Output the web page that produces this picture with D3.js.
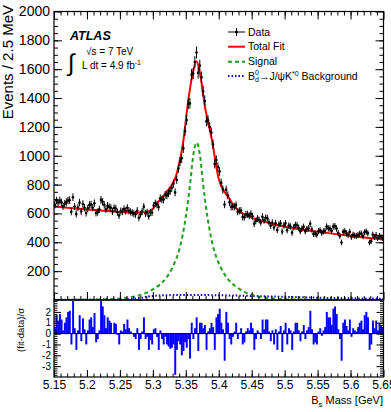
<!DOCTYPE html>
<html><head><meta charset="utf-8">
<script src="https://cdn.jsdelivr.net/npm/d3@7"></script>
<style>body{margin:0;background:#fff} svg{display:block} text{font-family:"Liberation Sans",Arial,Helvetica,sans-serif}</style>
</head><body><svg id="c" width="391" height="412"></svg>
<script>
// ---- data ----
const massMin = 5.15, massMax = 5.65, binWidth = 0.0025;
const dataCounts = [660,690,676,690,677,650,667,679,690,692,
612,712,648,597,641,675,614,666,640,603,
635,659,663,640,671,603,609,628,694,681,
660,629,653,645,639,614,638,634,609,586,
617,614,631,618,639,619,611,605,598,594,
619,570,595,613,647,600,608,581,606,606,
654,670,662,644,705,697,697,730,725,740,
755,778,807,746,834,911,959,982,1052,1170,
1248,1360,1363,1562,1570,1650,1716,1575,1625,1544,
1447,1380,1239,1245,1199,1161,1080,943,971,923,
891,813,766,662,765,726,677,646,647,647,
658,612,618,620,576,574,593,594,584,597,
580,528,548,564,555,538,577,552,570,567,
539,515,536,503,532,486,523,531,474,517,
531,484,516,510,467,504,520,518,501,477,
495,507,476,493,497,528,489,457,460,453,
477,483,466,475,480,509,496,495,478,509,
512,495,464,443,399,472,477,463,452,472,
437,452,447,444,451,458,461,443,469,474,
462,399,408,453,436,450,430,444,438,430];
const pulls = [0.5,1.7,1.2,1.8,1.3,0.3,1.0,1.5,2.0,2.1,
-1.0,3.0,0.5,-1.5,0.3,1.7,-0.7,1.4,0.4,-1.0,
0.3,1.3,1.5,0.6,1.9,-0.8,-0.5,0.3,3.0,2.5,
1.7,0.5,1.5,1.2,1.0,0.0,1.0,0.9,-0.1,-1.0,
0.3,0.2,0.9,0.4,1.3,0.5,0.2,0.0,-0.3,-0.5,
0.5,-1.5,-0.5,0.2,1.5,-0.5,-0.3,-1.5,-0.6,-1.0,
0.4,0.5,-0.3,-1.5,0.3,-0.5,-1.0,-0.3,-1.0,-1.2,
-1.4,-1.3,-1.0,-3.8,-1.5,-0.7,-1.0,-2.0,-1.6,-0.8,
-1.3,-0.5,-2.3,1.0,-0.5,0.5,1.5,-1.6,1.0,1.0,
0.5,0.8,-1.5,0.2,0.5,1.0,0.6,-1.5,1.5,1.8,
2.3,1.0,0.4,-2.5,2.0,1.0,-0.5,-1.0,-0.3,0.2,
1.0,-0.5,0.1,0.5,-1.0,-0.8,0.2,0.5,0.3,1.0,
0.5,-1.5,-0.5,0.3,0.1,-0.5,1.3,0.4,1.3,1.3,
0.2,-0.7,0.3,-1.0,0.4,-1.5,0.2,0.7,-1.7,0.3,
1.0,-1.0,0.5,0.3,-1.5,0.2,1.0,1.0,0.3,-0.7,
0.2,0.8,-0.5,0.3,0.6,2.1,0.4,-1.0,-0.8,-1.0,
0.2,0.5,-0.2,0.3,0.6,2.0,1.5,1.5,0.8,2.3,
2.5,1.8,0.4,-0.5,-2.5,1.0,1.3,0.7,0.3,1.3,
-0.3,0.5,0.3,0.2,0.6,1.0,1.2,0.4,1.7,2.0,
1.5,-1.5,-1.0,1.2,0.5,1.2,0.3,1.0,0.8,0.5];
const fitMass = [5.15,5.175,5.20,5.225,5.25,5.27,5.285,5.297,5.31,5.321,5.3365,5.3465,5.3526,5.36,5.3664,5.3714,5.379,5.3896,5.40,5.4175,5.4225,5.448,5.475,5.50,5.55,5.60,5.65];
const fitVals = [648,638,628,618,610,605,608,622,690,750,880,1111,1343,1560,1655,1574,1343,1111,840,694,655,575,535,508,474,444,420];
const sigMass = [5.15,5.2164,5.2564,5.2764,5.3024,5.3134,5.3214,5.3279,5.3344,5.3400,5.3451,5.3501,5.3567,5.3614,5.3664,5.3714,5.3761,5.3827,5.3877,5.3928,5.3984,5.4049,5.4114,5.4194,5.4304,5.4424,5.4564,5.4764,5.5164,5.65];
const sigVals = [0,3,13,28,80,118,160,208,273,347,448,579,810,1007,1090,1007,810,579,448,347,273,208,160,118,80,49,28,13,3,0];
const bkgMass = [5.15,5.20,5.25,5.27,5.28,5.29,5.30,5.32,5.35,5.40,5.45,5.50,5.55,5.60,5.65];
const bkgVals = [1,2,4,8,14,22,28,33,35,33,28,22,16,12,9];
const xTickValues = [5.15,5.2,5.25,5.3,5.35,5.4,5.45,5.5,5.55,5.6,5.65];
const xTickLabels = ["5.15","5.2","5.25","5.3","5.35","5.4","5.45","5.5","5.55","5.6","5.65"];
const yTickValues = [200,400,600,800,1000,1200,1400,1600,1800,2000];
const pullTickValues = [-3,-2,-1,0,1,2];

// ---- layout ----
const svg = d3.select("#c");
const L = 54, R = 383.5, mainTop = 11.5, mainBot = 300, pullTop = 300, pullBot = 377;
const x = d3.scaleLinear().domain([massMin, massMax]).range([L, R]);
const y = d3.scaleLinear().domain([0, 2000]).range([mainBot, mainTop]);
const yp = d3.scaleLinear().domain([-4, 3.1]).range([pullBot, pullTop]);
const bins = dataCounts.map((n, i) => ({lo: massMin + i*binWidth, hi: massMin + (i+1)*binWidth, c: massMin + (i+0.5)*binWidth, n, p: pulls[i]}));

function rng(a, b, s){ const out=[]; for(let v=a; v<=b+1e-9; v+=s) out.push(+v.toFixed(4)); return out; }
function clean(g){ g.select(".domain").remove(); g.selectAll(".tick line").attr("stroke","#000"); }

const defs = svg.append("defs");
defs.append("clipPath").attr("id","mainclip").append("rect").attr("x",L).attr("y",mainTop).attr("width",R-L).attr("height",mainBot-mainTop);
defs.append("clipPath").attr("id","pullclip").append("rect").attr("x",L).attr("y",pullTop).attr("width",R-L).attr("height",pullBot-pullTop);

// ---- pull bars ----
const pg = svg.append("g").attr("clip-path","url(#pullclip)");
pg.selectAll("rect").data(bins).join("rect")
  .attr("x", d => x(d.lo)).attr("width", d => x(d.hi)-x(d.lo)+0.3)
  .attr("y", d => Math.min(yp(0), yp(d.p))).attr("height", d => Math.abs(yp(d.p)-yp(0)))
  .attr("fill", "#0000ff");
pg.append("line").attr("x1",L).attr("x2",R).attr("y1",yp(0)).attr("y2",yp(0)).attr("stroke","#000").attr("stroke-width",1);

// ---- curves ----
const mg = svg.append("g").attr("clip-path","url(#mainclip)");
const line = d3.line().x(d => x(d[0])).y(d => y(d[1])).curve(d3.curveMonotoneX);
mg.append("path").datum(bkgMass.map((m,i)=>[m,bkgVals[i]])).attr("d",line)
  .attr("fill","none").attr("stroke","#0000cc").attr("stroke-width",2).attr("stroke-dasharray","1.5,2");
mg.append("path").datum(sigMass.map((m,i)=>[m,sigVals[i]])).attr("d",line)
  .attr("fill","none").attr("stroke","#1f9e1f").attr("stroke-width",2).attr("stroke-dasharray","4,3");
mg.append("path").datum(fitMass.map((m,i)=>[m,fitVals[i]])).attr("d",line)
  .attr("fill","none").attr("stroke","#ff0000").attr("stroke-width",2);

// ---- data points ----
const dg = mg.append("g");
const pts = dg.selectAll("g").data(bins).join("g");
pts.append("line").attr("x1", d=>x(d.c)).attr("x2", d=>x(d.c))
  .attr("y1", d=>y(d.n+Math.sqrt(d.n))).attr("y2", d=>y(d.n-Math.sqrt(d.n))).attr("stroke","#000").attr("stroke-width",1);
pts.append("line").attr("x1", d=>x(d.lo)).attr("x2", d=>x(d.hi))
  .attr("y1", d=>y(d.n)).attr("y2", d=>y(d.n)).attr("stroke","#000").attr("stroke-width",1);
pts.append("circle").attr("cx", d=>x(d.c)).attr("cy", d=>y(d.n)).attr("r",1.3).attr("fill","#000");

// ---- axes: main panel ----
const fMain = "14px", fPullX = "12px", fPullY = "10px";
let g;
g = svg.append("g").attr("transform",`translate(${L},0)`).call(d3.axisLeft(y).tickValues(yTickValues).tickSize(-8).tickPadding(4).tickFormat(d3.format("d")).tickSizeOuter(0));
clean(g); g.selectAll("text").attr("font-size",fMain).attr("font-family",null);
g = svg.append("g").attr("transform",`translate(${L},0)`).call(d3.axisLeft(y).tickValues(rng(50,1950,50)).tickSize(-4).tickFormat("").tickSizeOuter(0)); clean(g);
g = svg.append("g").attr("transform",`translate(${R},0)`).call(d3.axisRight(y).tickValues(yTickValues).tickSize(-8).tickFormat("").tickSizeOuter(0)); clean(g);
g = svg.append("g").attr("transform",`translate(${R},0)`).call(d3.axisRight(y).tickValues(rng(50,1950,50)).tickSize(-4).tickFormat("").tickSizeOuter(0)); clean(g);
g = svg.append("g").attr("transform",`translate(0,${mainTop})`).call(d3.axisTop(x).tickValues(xTickValues).tickSize(-8).tickFormat("").tickSizeOuter(0)); clean(g);
g = svg.append("g").attr("transform",`translate(0,${mainTop})`).call(d3.axisTop(x).tickValues(rng(5.16,5.64,0.01)).tickSize(-4).tickFormat("").tickSizeOuter(0)); clean(g);
g = svg.append("g").attr("transform",`translate(0,${mainBot})`).call(d3.axisBottom(x).tickValues(xTickValues).tickSize(-8).tickFormat("").tickSizeOuter(0)); clean(g);
g = svg.append("g").attr("transform",`translate(0,${mainBot})`).call(d3.axisBottom(x).tickValues(rng(5.16,5.64,0.01)).tickSize(-4).tickFormat("").tickSizeOuter(0)); clean(g);

// ---- axes: pull panel ----
g = svg.append("g").attr("transform",`translate(0,${pullBot})`).call(d3.axisBottom(x).tickValues(xTickValues).tickSize(-7).tickPadding(3).tickFormat((d,i)=>xTickLabels[i]).tickSizeOuter(0));
clean(g); g.selectAll("text").attr("font-size",fPullX).attr("font-family",null);
g = svg.append("g").attr("transform",`translate(0,${pullBot})`).call(d3.axisBottom(x).tickValues(rng(5.16,5.64,0.01)).tickSize(-3.5).tickFormat("").tickSizeOuter(0)); clean(g);
g = svg.append("g").attr("transform",`translate(${L},0)`).call(d3.axisLeft(yp).tickValues(pullTickValues).tickSize(-7).tickPadding(3).tickFormat(d3.format("d")).tickSizeOuter(0));
clean(g); g.selectAll("text").attr("font-size",fPullY).attr("font-family",null).text(d=>String(d));
g = svg.append("g").attr("transform",`translate(${L},0)`).call(d3.axisLeft(yp).tickValues(rng(-3.8,3.0,0.2)).tickSize(-3.5).tickFormat("").tickSizeOuter(0)); clean(g);
g = svg.append("g").attr("transform",`translate(${R},0)`).call(d3.axisRight(yp).tickValues(pullTickValues).tickSize(-7).tickFormat("").tickSizeOuter(0)); clean(g);
g = svg.append("g").attr("transform",`translate(${R},0)`).call(d3.axisRight(yp).tickValues(rng(-3.8,3.0,0.2)).tickSize(-3.5).tickFormat("").tickSizeOuter(0)); clean(g);

// ---- frames ----
svg.append("rect").attr("x",L).attr("y",mainTop).attr("width",R-L).attr("height",mainBot-mainTop).attr("fill","none").attr("stroke","#000").attr("stroke-width",1.2);
svg.append("rect").attr("x",L).attr("y",pullTop).attr("width",R-L).attr("height",pullBot-pullTop).attr("fill","none").attr("stroke","#000").attr("stroke-width",1.2);

// ---- titles ----
svg.append("text").attr("transform","translate(13,5) rotate(-90)").attr("text-anchor","end").attr("font-size","15px").text("Events / 2.5 MeV");
svg.append("text").attr("transform","translate(24,308) rotate(-90)").attr("text-anchor","end").attr("font-size","9.5px").text("(fit-data)/σ");
const xt = svg.append("text").attr("x",383).attr("y",404).attr("text-anchor","end").attr("font-size","11px");
xt.append("tspan").text("B");
xt.append("tspan").attr("font-size","8px").attr("dy",2.5).text("s");
xt.append("tspan").attr("dy",-2.5).text(" Mass [GeV]");

// ---- ATLAS label ----
svg.append("text").attr("x",70).attr("y",40).attr("font-size","12.5px").attr("font-weight","bold").attr("font-style","italic").text("ATLAS");
svg.append("text").attr("x",68).attr("y",71).attr("font-size","24px").attr("font-weight","300").text("∫");
svg.append("text").attr("x",86).attr("y",55).attr("font-size","10px").text("√s = 7 TeV");
const lt = svg.append("text").attr("x",82).attr("y",69).attr("font-size","10px");
lt.append("tspan").text("L dt = 4.9 fb");
lt.append("tspan").attr("font-size","7px").attr("dy",-4).text("-1");

// ---- legend ----
const lg = svg.append("g");
const lx0 = 228, lx1 = 245, ltx = 248;
const rows = [32, 46.7, 61.7, 76];
lg.append("line").attr("x1",lx0).attr("x2",lx1).attr("y1",rows[0]).attr("y2",rows[0]).attr("stroke","#000");
lg.append("line").attr("x1",(lx0+lx1)/2).attr("x2",(lx0+lx1)/2).attr("y1",rows[0]-4).attr("y2",rows[0]+4).attr("stroke","#000");
lg.append("circle").attr("cx",(lx0+lx1)/2).attr("cy",rows[0]).attr("r",1.5).attr("fill","#000");
lg.append("line").attr("x1",lx0).attr("x2",lx1).attr("y1",rows[1]).attr("y2",rows[1]).attr("stroke","#ff0000").attr("stroke-width",2);
lg.append("line").attr("x1",lx0).attr("x2",lx1).attr("y1",rows[2]).attr("y2",rows[2]).attr("stroke","#1f9e1f").attr("stroke-width",2).attr("stroke-dasharray","4,3");
lg.append("line").attr("x1",lx0).attr("x2",lx1).attr("y1",rows[3]).attr("y2",rows[3]).attr("stroke","#0000cc").attr("stroke-width",2).attr("stroke-dasharray","1.5,2");
const lf = "10.5px";
lg.append("text").attr("x",ltx).attr("y",rows[0]).attr("dy","0.35em").attr("font-size",lf).text("Data");
lg.append("text").attr("x",ltx).attr("y",rows[1]).attr("dy","0.35em").attr("font-size",lf).text("Total Fit");
lg.append("text").attr("x",ltx).attr("y",rows[2]).attr("dy","0.35em").attr("font-size",lf).text("Signal");
const bt = lg.append("text").attr("x",ltx).attr("y",rows[3]).attr("dy","0.35em").attr("font-size",lf);
bt.append("tspan").text("B");
bt.append("tspan").attr("font-size","7px").attr("dy",-4.5).text("0");
bt.append("tspan").attr("font-size","7px").attr("dx",-3.9).attr("dy",7).text("d");
bt.append("tspan").attr("dy",-2.5).text("→J/ψK");
bt.append("tspan").attr("font-size","7px").attr("dy",-4).text("*0");
bt.append("tspan").attr("dy",4).text(" Background");
</script></body></html>
